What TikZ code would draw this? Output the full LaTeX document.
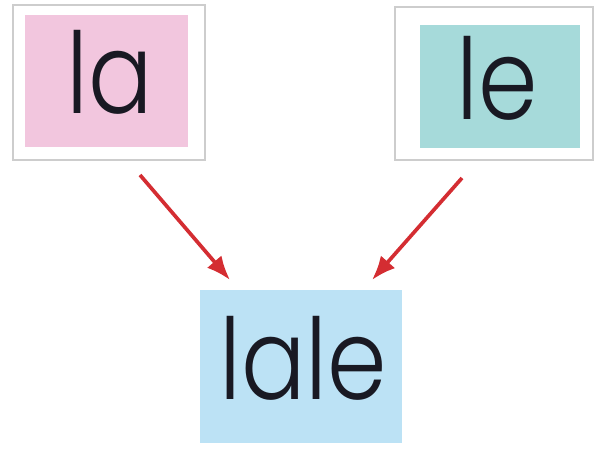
\documentclass[tikz,border=0pt]{standalone}
\usepackage{fontspec}
\setmainfont{Poppins}[UprightFont=* Light]
\usetikzlibrary{arrows.meta}

\begin{document}
\begin{tikzpicture}[
  frame/.style={draw=framecolor,fill=white,line width=0.8pt},
  word/.style={inner sep=0pt,font=\fontsize{64}{64}\selectfont,text=inkcolor},
  arrowline/.style={draw=arrowcolor,line width=2.1pt,-{Latex[length=4.8mm,width=3.8mm]}}]
\definecolor{pinkcolor}{RGB}{242,198,222}
\definecolor{tealcolor}{RGB}{166,218,218}
\definecolor{bluecolor}{RGB}{188,226,245}
\definecolor{framecolor}{RGB}{205,205,205}
\definecolor{arrowcolor}{RGB}{212,45,50}
\definecolor{inkcolor}{RGB}{25,25,35}
\useasboundingbox (0,0) rectangle (12,9.16);
\node [frame,minimum width=3.84cm,minimum height=3.10cm] (laframe) at (2.18,7.51) {};
\node [frame,minimum width=3.96cm,minimum height=3.06cm] (leframe) at (9.88,7.49) {};
\node [fill=pinkcolor,minimum width=3.26cm,minimum height=2.64cm] (labox) at (2.13,7.54) {};
\node [fill=tealcolor,minimum width=3.20cm,minimum height=2.46cm] (lebox) at (10.00,7.43) {};
\node [fill=bluecolor,minimum width=4.04cm,minimum height=3.06cm] (lalebox) at (6.02,1.83) {};
\node [word] (la) at (2.20,7.71) {\scalebox{0.85}[1]{la}};
\node [word] (le) at (9.94,7.59) {\scalebox{0.85}[1]{le}};
\node [word] (lale) at (6.06,1.99) {\scalebox{0.85}[1]{lale}};
\coordinate (lastart) at (2.80,5.66);
\coordinate (lestart) at (9.24,5.60);
\coordinate (laend) at (4.60,3.56);
\coordinate (leend) at (7.44,3.56);
\draw [arrowline] (lastart) -- (laend);
\draw [arrowline] (lestart) -- (leend);
\end{tikzpicture}
\end{document}
